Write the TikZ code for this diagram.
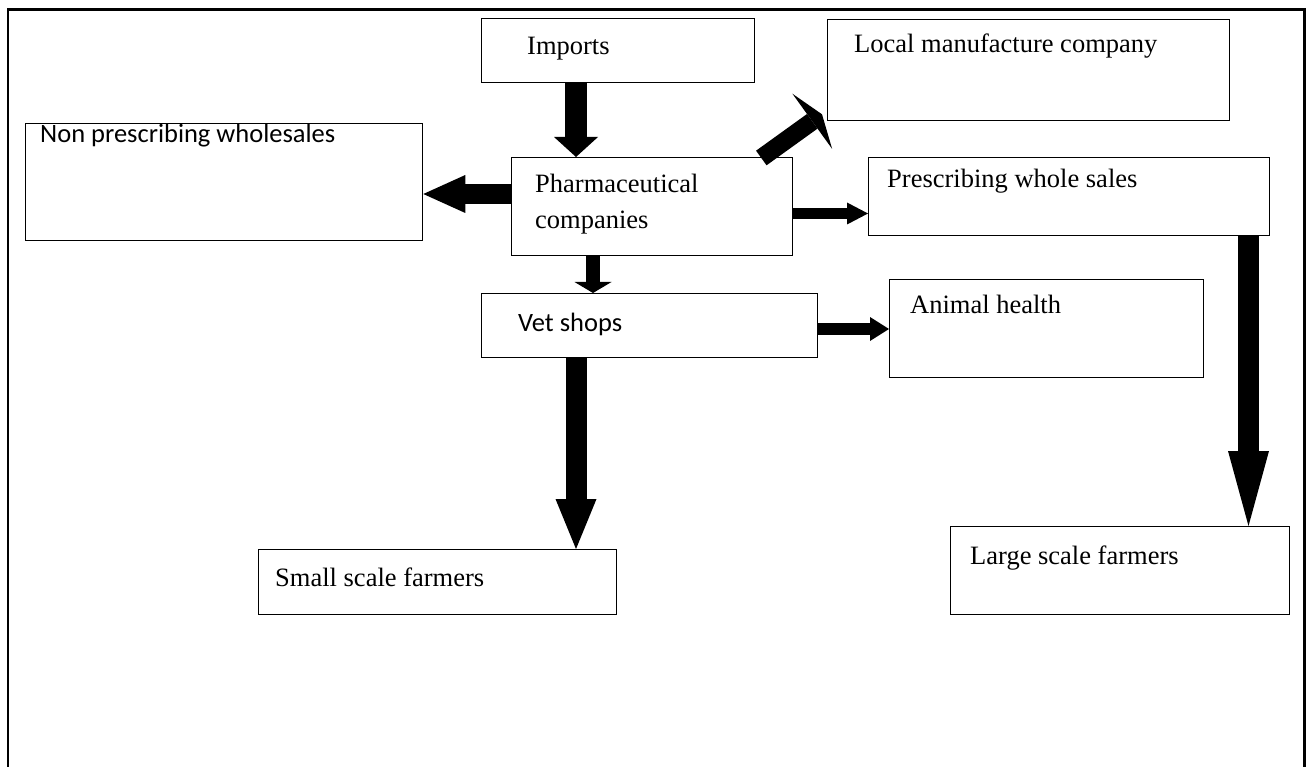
\documentclass[tikz,border=0pt]{standalone}
\usepackage{fontspec}
\setmainfont{Liberation Serif}
\newfontfamily\calfont{Carlito}
\usetikzlibrary{arrows.meta,calc}
\tikzset{
  box/.style={draw=black, line width=1.3pt, fill=none, inner sep=0pt, anchor=north west},
  txt/.style={inner sep=0pt, anchor=base west, font=\fontsize{26.5}{37}\selectfont},
  stxt/.style={inner sep=0pt, anchor=base west, font=\calfont\fontsize{26.5}{32}\selectfont},
  blk/.style n args={3}{draw=black, line width=#1pt,
    -{Triangle[width=#2pt,length=#3pt,line width=0pt]}},
}
\begin{document}
\begin{tikzpicture}[x=1pt,y=-1pt]
\useasboundingbox (0,0) rectangle (1306,767);
% outer frame
\draw[line width=2.6pt] (8,790) -- (8,9.5) -- (1304.5,9.5) -- (1304.5,790);
% boxes
\node[box, minimum width=273pt, minimum height=64pt] (imp) at (481,18) {};
\node[box, minimum width=402pt, minimum height=101pt] (lm) at (827,19) {};
\node[box, minimum width=397pt, minimum height=117pt] (np) at (25,123) {};
\node[box, minimum width=281pt, minimum height=98pt] (ph) at (511,157) {};
\node[box, minimum width=401pt, minimum height=78pt] (pr) at (868,157) {};
\node[box, minimum width=336pt, minimum height=64pt] (vet) at (481,293) {};
\node[box, minimum width=314pt, minimum height=98pt] (ah) at (889,279) {};
\node[box, minimum width=358pt, minimum height=65pt] (sm) at (258,549) {};
\node[box, minimum width=339pt, minimum height=88pt] (lg) at (950,526) {};
% texts
\node[txt] (impT) at (527,55) {Imports};
\node[txt] (lmT) at (854,53) {Local manufacture company};
\node[stxt] (npT) at (40,143) {Non prescribing wholesales};
\node[txt] (phT1) at (535,193) {Pharmaceutical};
\node[txt] (phT2) at (535,229) {companies};
\node[txt] (prT) at (887,188) {Prescribing whole sales};
\node[stxt] (vetT) at (518,331) {Vet shops};
\node[txt] (ahT) at (910,313) {Animal health};
\node[txt] (smT) at (275,586) {Small scale farmers};
\node[txt] (lgT) at (970,564) {Large scale farmers};
% arrows
\draw[blk={22}{44}{20}] (imp.south -| 576,0) -- (ph.north -| 576,0);
\draw[blk={20}{38}{42}] (ph.west |- 0,194) -- (np.east |- 0,194);
\draw[blk={11}{22}{21}] (ph.east |- 0,213.5) -- (pr.west |- 0,213.5);
\draw[blk={14}{37}{11}] (ph.south -| 593,0) -- (vet.north -| 593,0);
\draw[blk={12}{24}{19}] (vet.east |- 0,329) -- (ah.west |- 0,329);
\draw[blk={21}{41}{50}] (vet.south -| 576,0) -- (sm.north -| 576,0);
\draw[blk={21}{41}{75}] (pr.south -| 1248.5,0) -- (lg.north -| 1248.5,0);
\draw[blk={18}{68}{12}] ([xshift=-32pt,yshift=-1pt]ph.north east) -- ([xshift=-5pt,yshift=7pt]lm.south west);
\end{tikzpicture}
\end{document}
